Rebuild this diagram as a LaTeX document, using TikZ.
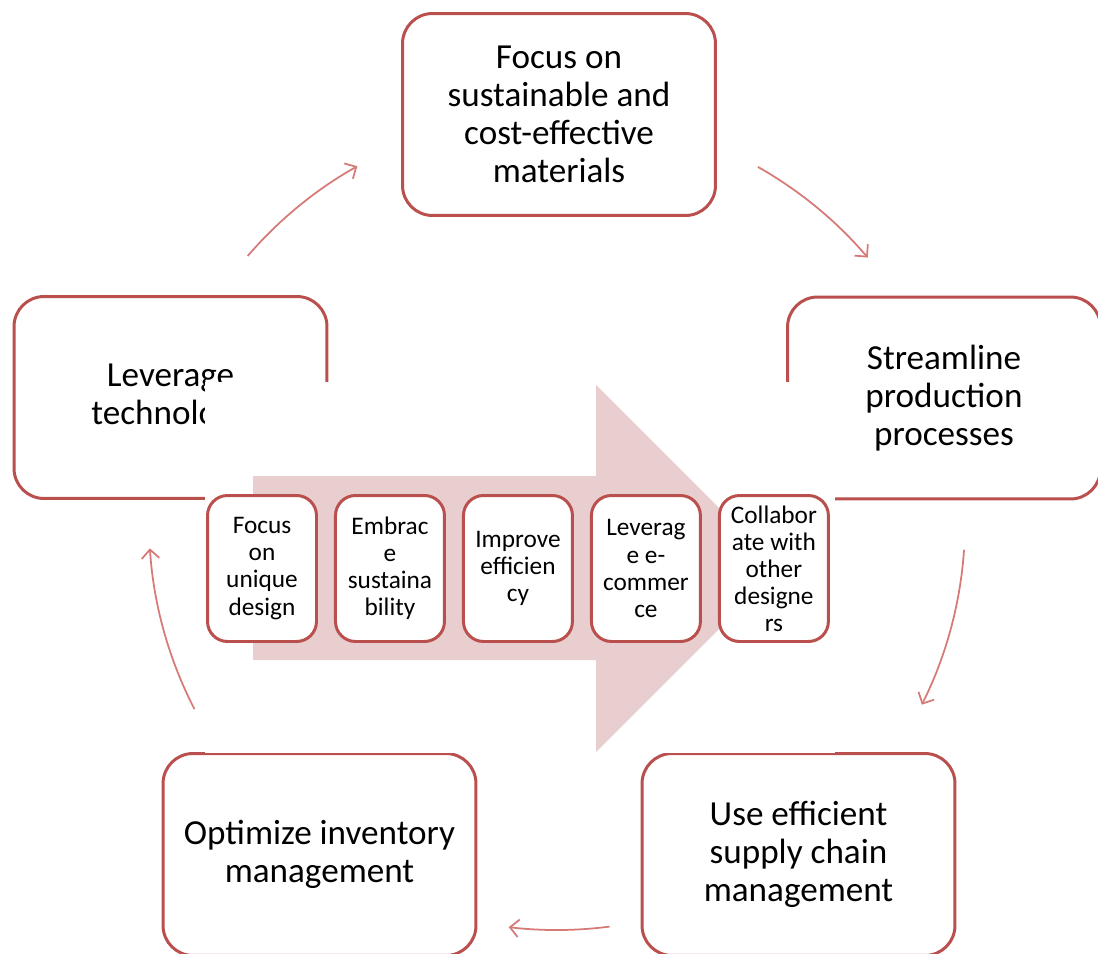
\documentclass[tikz,border=0pt]{standalone}
\usepackage{fontspec}
\setmainfont{Carlito}
\usetikzlibrary{arrows.meta,positioning,calc}
\definecolor{boxred}{RGB}{185,80,78}
\definecolor{arcred}{RGB}{214,122,120}
\definecolor{bandpink}{RGB}{232,206,206}
\tikzset{
	stage/.style={draw=boxred, line width=1.7pt, fill=white, rounded corners=0.6cm,
		minimum width=6.26cm, minimum height=4.04cm, align=center, outer sep=0pt,
		font=\fontsize{20}{21.6}\selectfont},
	pillar/.style={draw=boxred, line width=1.7pt, fill=white, rounded corners=0.4cm,
		minimum width=2.18cm, minimum height=2.92cm, align=center, inner sep=1pt, outer sep=0pt,
		font=\fontsize{14.4}{15.4}\selectfont},
	turn/.style={draw=arcred, line width=1pt, -{Straight Barb[length=5pt,width=10pt]}}
}
\begin{document}
\begin{tikzpicture}[x=0.02cm, y=-0.02cm]
			\useasboundingbox (0,0) rectangle (1098,953);
			\clip (0,0) rectangle (1098,953);
			\coordinate (hub) at (557,522);

			\node[stage] (mat) at (559,114.5) {Focus on\\sustainable and\\cost-effective\\materials};
			\node[stage] (prod) at (944,398) {Streamline\\production\\processes};
			\node[stage] (supply) at (798.5,854.5) {Use efficient\\supply chain\\management};
			\node[stage] (inv) at (319.5,854.5) {Optimize inventory\\management};
			\node[stage] (tech) at (170.5,397.5) {Leverage\\technology};

			\coordinate (t1) at ($(hub)+(-139.3:408)$);
			\coordinate (t2) at ($(hub)+(-60.5:408)$);
			\coordinate (t3) at ($(hub)+(3.9:408)$);
			\coordinate (t4) at ($(hub)+(82.6:408)$);
			\coordinate (t5) at ($(hub)+(152.7:408)$);

			\draw[turn] (t1) arc[start angle=-139.3, end angle=-119.3, radius=408];
			\draw[turn] (t2) arc[start angle=-60.5, end angle=-40.4, radius=408];
			\draw[turn] (t3) arc[start angle=3.9, end angle=26.6, radius=408];
			\draw[turn] (t4) arc[start angle=82.6, end angle=96.8, radius=408];
			\draw[turn] (t5) arc[start angle=152.7, end angle=176.3, radius=408];

			\fill[white] (205,382) rectangle (835,753);
			\fill[bandpink] (253,476) -- (596,476) -- (596,385) -- (779.5,568.5)
				-- (596,752) -- (596,660) -- (253,660) -- cycle;

			\node[pillar] (p1) at (262,568.5) {Focus\\on\\unique\\design};
			\node[pillar] (p2) [right=0.38cm of p1] {Embrac\\e\\sustaina\\bility};
			\node[pillar] (p3) [right=0.38cm of p2] {Improve\\efficien\\cy};
			\node[pillar] (p4) [right=0.38cm of p3] {Leverag\\e e-\\commer\\ce};
			\node[pillar] (p5) [right=0.38cm of p4] {Collabor\\ate with\\other\\designe\\rs};
		\end{tikzpicture}
\end{document}
